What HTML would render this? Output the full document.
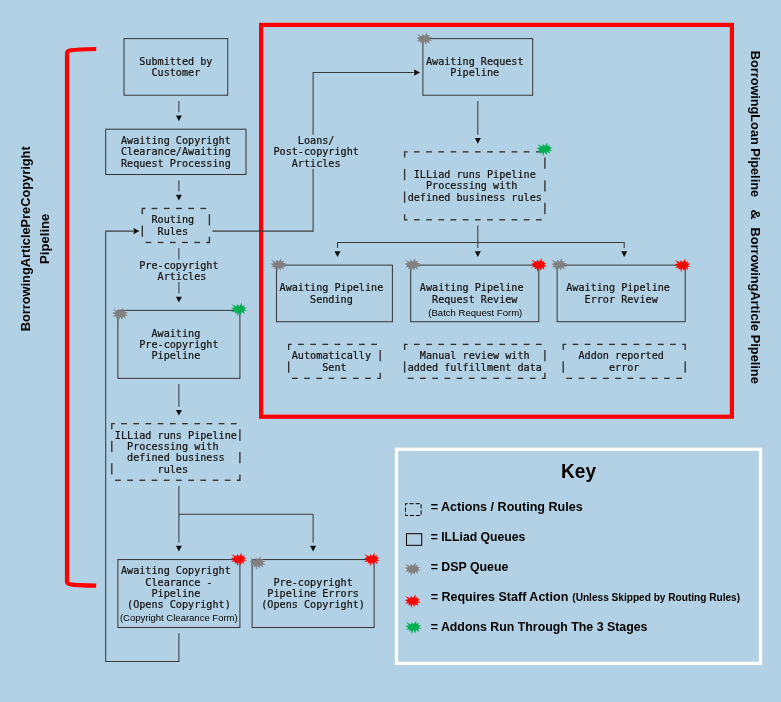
<!DOCTYPE html>
<html lang="en"><head><meta charset="utf-8"><title>Pipeline Diagram</title>
<style>html,body{margin:0;padding:0;background:#b3d1e4;}body{width:781px;height:702px;overflow:hidden;}svg{display:block;transform:translateZ(0);will-change:transform;}.m{font-family:"DejaVu Sans Mono","Liberation Mono",monospace;font-size:10.13px;fill:#141414;stroke:#141414;stroke-width:0.22px;white-space:pre;}.s{font-family:"Liberation Sans",sans-serif;fill:#000;}.b{font-family:"Liberation Sans",sans-serif;font-weight:bold;fill:#000;}</style></head><body>
<svg width="781" height="702" viewBox="0 0 781 702">
<rect width="781" height="702" fill="#b3d1e4"/>
<rect x="261.1" y="24.9" width="470.8" height="391.8" fill="none" stroke="#ff0000" stroke-width="4.2"/>
<path d="M96.2,49 C85,49.2 75,49.6 70.5,50.3 C67.8,50.8 67,51.5 67,53.2 L67,581.4 C67,583.1 67.8,583.8 70.5,584.3 C75,585 85,585.4 96.2,585.7" fill="none" stroke="#ff0000" stroke-width="4.2"/>
<rect x="396.45" y="449.35" width="364.1" height="214" fill="none" stroke="#ffffff" stroke-width="3.3"/>
<g fill="none" stroke="#383b3e" stroke-width="1.05">
<rect x="124" y="38.6" width="103.7" height="56.62"/>
<line x1="178.9" y1="100.89" x2="178.9" y2="112.21"/>
<rect x="105.7" y="129.2" width="140.3" height="45.3"/>
<line x1="178.9" y1="180.16" x2="178.9" y2="191.49"/>
<line x1="178.9" y1="248.11" x2="178.9" y2="259.44"/>
<line x1="178.9" y1="282.09" x2="178.9" y2="293.41"/>
<rect x="117.9" y="310.4" width="122" height="67.95"/>
<line x1="178.9" y1="384.01" x2="178.9" y2="406.66"/>
<line x1="178.9" y1="485.94" x2="178.9" y2="542.56"/>
<line x1="178.9" y1="514.25" x2="313.1" y2="514.25"/>
<line x1="313.1" y1="514.25" x2="313.1" y2="542.56"/>
<rect x="117.9" y="559.55" width="122" height="67.95"/>
<rect x="252.1" y="559.55" width="122" height="67.95"/>
<polyline points="178.9,633.16 178.9,661.48 105.7,661.48 105.7,231.12 133.15,231.12"/>
<polyline points="212.45,231.12 313.1,231.12 313.1,168.84"/>
<polyline points="313.1,134.86 313.1,72.57 413.75,72.57"/>
<rect x="422.9" y="38.6" width="109.8" height="56.62"/>
<line x1="477.8" y1="100.89" x2="477.8" y2="134.86"/>
<line x1="477.8" y1="225.46" x2="477.8" y2="242.45"/>
<polyline points="337.5,248.11 337.5,242.45 624.2,242.45 624.2,248.11"/>
<line x1="477.8" y1="242.45" x2="477.8" y2="248.11"/>
<rect x="276.5" y="265.1" width="115.9" height="56.62"/>
<rect x="410.7" y="265.1" width="128.1" height="56.62"/>
<rect x="557.1" y="265.1" width="128.1" height="56.62"/>
</g>
<g fill="none" stroke="#2f3235" stroke-width="1.35">
<polyline points="145.35,208.47 142.3,208.47 142.3,214.14"/>
<line x1="151.63" y1="208.47" x2="157.37" y2="208.47"/>
<line x1="163.83" y1="208.47" x2="169.57" y2="208.47"/>
<line x1="176.03" y1="208.47" x2="181.77" y2="208.47"/>
<line x1="188.23" y1="208.47" x2="193.97" y2="208.47"/>
<line x1="200.43" y1="208.47" x2="206.17" y2="208.47"/>
<line x1="209.4" y1="214.14" x2="209.4" y2="225.46"/>
<polyline points="206.35,242.45 209.4,242.45 209.4,236.79"/>
<line x1="194.33" y1="242.45" x2="200.07" y2="242.45"/>
<line x1="182.13" y1="242.45" x2="187.87" y2="242.45"/>
<line x1="169.93" y1="242.45" x2="175.67" y2="242.45"/>
<line x1="157.73" y1="242.45" x2="163.47" y2="242.45"/>
<line x1="145.53" y1="242.45" x2="151.27" y2="242.45"/>
<line x1="142.3" y1="225.46" x2="142.3" y2="236.79"/>
<polyline points="114.85,423.65 111.8,423.65 111.8,429.31"/>
<line x1="121.13" y1="423.65" x2="126.87" y2="423.65"/>
<line x1="133.33" y1="423.65" x2="139.07" y2="423.65"/>
<line x1="145.53" y1="423.65" x2="151.27" y2="423.65"/>
<line x1="157.73" y1="423.65" x2="163.47" y2="423.65"/>
<line x1="169.93" y1="423.65" x2="175.67" y2="423.65"/>
<line x1="182.13" y1="423.65" x2="187.87" y2="423.65"/>
<line x1="194.33" y1="423.65" x2="200.07" y2="423.65"/>
<line x1="206.53" y1="423.65" x2="212.27" y2="423.65"/>
<line x1="218.73" y1="423.65" x2="224.47" y2="423.65"/>
<line x1="230.93" y1="423.65" x2="236.67" y2="423.65"/>
<line x1="239.9" y1="429.31" x2="239.9" y2="440.64"/>
<line x1="239.9" y1="451.96" x2="239.9" y2="463.29"/>
<polyline points="236.85,480.27 239.9,480.27 239.9,474.61"/>
<line x1="224.83" y1="480.27" x2="230.57" y2="480.27"/>
<line x1="212.63" y1="480.27" x2="218.37" y2="480.27"/>
<line x1="200.43" y1="480.27" x2="206.17" y2="480.27"/>
<line x1="188.23" y1="480.27" x2="193.97" y2="480.27"/>
<line x1="176.03" y1="480.27" x2="181.77" y2="480.27"/>
<line x1="163.83" y1="480.27" x2="169.57" y2="480.27"/>
<line x1="151.63" y1="480.27" x2="157.37" y2="480.27"/>
<line x1="139.43" y1="480.27" x2="145.17" y2="480.27"/>
<line x1="127.23" y1="480.27" x2="132.97" y2="480.27"/>
<line x1="115.03" y1="480.27" x2="120.77" y2="480.27"/>
<line x1="111.8" y1="463.29" x2="111.8" y2="474.61"/>
<line x1="111.8" y1="440.64" x2="111.8" y2="451.96"/>
<polyline points="407.65,151.85 404.6,151.85 404.6,157.51"/>
<line x1="413.93" y1="151.85" x2="419.67" y2="151.85"/>
<line x1="426.13" y1="151.85" x2="431.87" y2="151.85"/>
<line x1="438.33" y1="151.85" x2="444.07" y2="151.85"/>
<line x1="450.53" y1="151.85" x2="456.27" y2="151.85"/>
<line x1="462.73" y1="151.85" x2="468.47" y2="151.85"/>
<line x1="474.93" y1="151.85" x2="480.67" y2="151.85"/>
<line x1="487.13" y1="151.85" x2="492.87" y2="151.85"/>
<line x1="499.33" y1="151.85" x2="505.07" y2="151.85"/>
<line x1="511.53" y1="151.85" x2="517.27" y2="151.85"/>
<line x1="523.73" y1="151.85" x2="529.47" y2="151.85"/>
<line x1="535.93" y1="151.85" x2="541.67" y2="151.85"/>
<line x1="544.9" y1="157.51" x2="544.9" y2="168.84"/>
<line x1="544.9" y1="180.16" x2="544.9" y2="191.49"/>
<line x1="544.9" y1="202.81" x2="544.9" y2="214.14"/>
<line x1="535.93" y1="219.8" x2="541.67" y2="219.8"/>
<line x1="523.73" y1="219.8" x2="529.47" y2="219.8"/>
<line x1="511.53" y1="219.8" x2="517.27" y2="219.8"/>
<line x1="499.33" y1="219.8" x2="505.07" y2="219.8"/>
<line x1="487.13" y1="219.8" x2="492.87" y2="219.8"/>
<line x1="474.93" y1="219.8" x2="480.67" y2="219.8"/>
<line x1="462.73" y1="219.8" x2="468.47" y2="219.8"/>
<line x1="450.53" y1="219.8" x2="456.27" y2="219.8"/>
<line x1="438.33" y1="219.8" x2="444.07" y2="219.8"/>
<line x1="426.13" y1="219.8" x2="431.87" y2="219.8"/>
<line x1="413.93" y1="219.8" x2="419.67" y2="219.8"/>
<polyline points="407.65,219.8 404.6,219.8 404.6,214.14"/>
<line x1="404.6" y1="191.49" x2="404.6" y2="202.81"/>
<line x1="404.6" y1="168.84" x2="404.6" y2="180.16"/>
<polyline points="291.75,344.38 288.7,344.38 288.7,350.04"/>
<line x1="298.03" y1="344.38" x2="303.77" y2="344.38"/>
<line x1="310.23" y1="344.38" x2="315.97" y2="344.38"/>
<line x1="322.43" y1="344.38" x2="328.17" y2="344.38"/>
<line x1="334.63" y1="344.38" x2="340.37" y2="344.38"/>
<line x1="346.83" y1="344.38" x2="352.57" y2="344.38"/>
<line x1="359.03" y1="344.38" x2="364.77" y2="344.38"/>
<line x1="371.23" y1="344.38" x2="376.97" y2="344.38"/>
<line x1="380.2" y1="350.04" x2="380.2" y2="361.36"/>
<polyline points="377.15,378.35 380.2,378.35 380.2,372.69"/>
<line x1="365.13" y1="378.35" x2="370.87" y2="378.35"/>
<line x1="352.93" y1="378.35" x2="358.67" y2="378.35"/>
<line x1="340.73" y1="378.35" x2="346.47" y2="378.35"/>
<line x1="328.53" y1="378.35" x2="334.27" y2="378.35"/>
<line x1="316.33" y1="378.35" x2="322.07" y2="378.35"/>
<line x1="304.13" y1="378.35" x2="309.87" y2="378.35"/>
<line x1="291.93" y1="378.35" x2="297.67" y2="378.35"/>
<line x1="288.7" y1="361.36" x2="288.7" y2="372.69"/>
<polyline points="407.65,344.38 404.6,344.38 404.6,350.04"/>
<line x1="413.93" y1="344.38" x2="419.67" y2="344.38"/>
<line x1="426.13" y1="344.38" x2="431.87" y2="344.38"/>
<line x1="438.33" y1="344.38" x2="444.07" y2="344.38"/>
<line x1="450.53" y1="344.38" x2="456.27" y2="344.38"/>
<line x1="462.73" y1="344.38" x2="468.47" y2="344.38"/>
<line x1="474.93" y1="344.38" x2="480.67" y2="344.38"/>
<line x1="487.13" y1="344.38" x2="492.87" y2="344.38"/>
<line x1="499.33" y1="344.38" x2="505.07" y2="344.38"/>
<line x1="511.53" y1="344.38" x2="517.27" y2="344.38"/>
<line x1="523.73" y1="344.38" x2="529.47" y2="344.38"/>
<line x1="535.93" y1="344.38" x2="541.67" y2="344.38"/>
<line x1="544.9" y1="350.04" x2="544.9" y2="361.36"/>
<polyline points="541.85,378.35 544.9,378.35 544.9,372.69"/>
<line x1="529.83" y1="378.35" x2="535.57" y2="378.35"/>
<line x1="517.63" y1="378.35" x2="523.37" y2="378.35"/>
<line x1="505.43" y1="378.35" x2="511.17" y2="378.35"/>
<line x1="493.23" y1="378.35" x2="498.97" y2="378.35"/>
<line x1="481.03" y1="378.35" x2="486.77" y2="378.35"/>
<line x1="468.83" y1="378.35" x2="474.57" y2="378.35"/>
<line x1="456.63" y1="378.35" x2="462.37" y2="378.35"/>
<line x1="444.43" y1="378.35" x2="450.17" y2="378.35"/>
<line x1="432.23" y1="378.35" x2="437.97" y2="378.35"/>
<line x1="420.03" y1="378.35" x2="425.77" y2="378.35"/>
<line x1="407.83" y1="378.35" x2="413.57" y2="378.35"/>
<line x1="404.6" y1="361.36" x2="404.6" y2="372.69"/>
<polyline points="566.25,344.38 563.2,344.38 563.2,350.04"/>
<line x1="572.53" y1="344.38" x2="578.27" y2="344.38"/>
<line x1="584.73" y1="344.38" x2="590.47" y2="344.38"/>
<line x1="596.93" y1="344.38" x2="602.67" y2="344.38"/>
<line x1="609.13" y1="344.38" x2="614.87" y2="344.38"/>
<line x1="621.33" y1="344.38" x2="627.07" y2="344.38"/>
<line x1="633.53" y1="344.38" x2="639.27" y2="344.38"/>
<line x1="645.73" y1="344.38" x2="651.47" y2="344.38"/>
<line x1="657.93" y1="344.38" x2="663.67" y2="344.38"/>
<line x1="670.13" y1="344.38" x2="675.87" y2="344.38"/>
<polyline points="682.15,344.38 685.2,344.38 685.2,350.04"/>
<line x1="685.2" y1="361.36" x2="685.2" y2="372.69"/>
<line x1="676.23" y1="378.35" x2="681.97" y2="378.35"/>
<line x1="664.03" y1="378.35" x2="669.77" y2="378.35"/>
<line x1="651.83" y1="378.35" x2="657.57" y2="378.35"/>
<line x1="639.63" y1="378.35" x2="645.37" y2="378.35"/>
<line x1="627.43" y1="378.35" x2="633.17" y2="378.35"/>
<line x1="615.23" y1="378.35" x2="620.97" y2="378.35"/>
<line x1="603.03" y1="378.35" x2="608.77" y2="378.35"/>
<line x1="590.83" y1="378.35" x2="596.57" y2="378.35"/>
<line x1="578.63" y1="378.35" x2="584.37" y2="378.35"/>
<line x1="566.43" y1="378.35" x2="572.17" y2="378.35"/>
<line x1="563.2" y1="361.36" x2="563.2" y2="372.69"/>
</g>
<g fill="#111">
<polygon points="175.9,115.47 181.9,115.47 178.9,121.17"/>
<polygon points="175.9,194.75 181.9,194.75 178.9,200.45"/>
<polygon points="175.9,296.68 181.9,296.68 178.9,302.38"/>
<polygon points="175.9,409.93 181.9,409.93 178.9,415.62"/>
<polygon points="175.9,545.82 181.9,545.82 178.9,551.52"/>
<polygon points="310.1,545.82 316.1,545.82 313.1,551.52"/>
<polygon points="133.6,228.02 133.6,234.22 139.4,231.12"/>
<polygon points="414.2,69.47 414.2,75.67 420,72.57"/>
<polygon points="474.8,138.12 480.8,138.12 477.8,143.83"/>
<polygon points="334.5,251.37 340.5,251.37 337.5,257.07"/>
<polygon points="474.8,251.37 480.8,251.37 477.8,257.07"/>
<polygon points="621.2,251.37 627.2,251.37 624.2,257.07"/>
</g>
<polygon fill="#808080" points="424.4,35.91 427.16,32.15 426.89,35.6 430.01,35.04 428.77,36.89 432.03,37.42 429.44,38.94 432.4,40.76 428.87,40.54 429.84,43.88 426.79,41.52 426.21,44.94 424.2,41.83 422.69,46.15 422.11,42.28 419.93,43.57 420.6,41.18 416.5,41.6 419.16,39.78 416.4,37.73 419.83,37.09 416.67,33.64 421.82,36.25 422.59,33.64"/>
<polygon fill="#00b050" points="544.7,146.11 547.46,142.35 547.19,145.8 550.31,145.24 549.07,147.09 552.33,147.62 549.74,149.14 552.7,150.96 549.17,150.74 550.14,154.08 547.09,151.72 546.51,155.14 544.5,152.03 542.99,156.35 542.41,152.48 540.23,153.77 540.9,151.38 536.8,151.8 539.46,149.98 536.7,147.93 540.13,147.29 536.97,143.84 542.12,146.45 542.89,143.84"/>
<polygon fill="#808080" points="278.6,261.81 281.36,258.05 281.09,261.5 284.21,260.94 282.97,262.79 286.23,263.32 283.64,264.84 286.6,266.66 283.07,266.44 284.04,269.78 280.99,267.42 280.41,270.84 278.4,267.73 276.89,272.05 276.31,268.18 274.13,269.47 274.8,267.08 270.7,267.5 273.36,265.68 270.6,263.63 274.03,262.99 270.87,259.54 276.02,262.15 276.79,259.54"/>
<polygon fill="#808080" points="412.6,261.81 415.36,258.05 415.09,261.5 418.21,260.94 416.97,262.79 420.23,263.32 417.64,264.84 420.6,266.66 417.07,266.44 418.04,269.78 414.99,267.42 414.41,270.84 412.4,267.73 410.89,272.05 410.31,268.18 408.13,269.47 408.8,267.08 404.7,267.5 407.36,265.68 404.6,263.63 408.03,262.99 404.87,259.54 410.02,262.15 410.79,259.54"/>
<polygon fill="#ff0000" points="539,261.81 541.76,258.05 541.49,261.5 544.61,260.94 543.37,262.79 546.63,263.32 544.04,264.84 547,266.66 543.47,266.44 544.44,269.78 541.39,267.42 540.81,270.84 538.8,267.73 537.29,272.05 536.71,268.18 534.53,269.47 535.2,267.08 531.1,267.5 533.76,265.68 531,263.63 534.43,262.99 531.27,259.54 536.42,262.15 537.19,259.54"/>
<polygon fill="#808080" points="559.3,261.81 562.06,258.05 561.79,261.5 564.91,260.94 563.67,262.79 566.93,263.32 564.34,264.84 567.3,266.66 563.77,266.44 564.74,269.78 561.69,267.42 561.11,270.84 559.1,267.73 557.59,272.05 557.01,268.18 554.83,269.47 555.5,267.08 551.4,267.5 554.06,265.68 551.3,263.63 554.73,262.99 551.57,259.54 556.72,262.15 557.49,259.54"/>
<polygon fill="#ff0000" points="682.7,262.21 685.46,258.45 685.19,261.9 688.31,261.34 687.07,263.19 690.33,263.72 687.74,265.24 690.7,267.06 687.17,266.84 688.14,270.18 685.09,267.82 684.51,271.24 682.5,268.13 680.99,272.45 680.41,268.58 678.23,269.87 678.9,267.48 674.8,267.9 677.46,266.08 674.7,264.03 678.13,263.39 674.97,259.94 680.12,262.55 680.89,259.94"/>
<polygon fill="#808080" points="120.4,310.91 123.16,307.15 122.89,310.6 126.01,310.04 124.77,311.89 128.03,312.42 125.44,313.94 128.4,315.76 124.87,315.54 125.84,318.88 122.79,316.52 122.21,319.94 120.2,316.83 118.69,321.15 118.11,317.28 115.93,318.57 116.6,316.18 112.5,316.6 115.16,314.78 112.4,312.73 115.83,312.09 112.67,308.64 117.82,311.25 118.59,308.64"/>
<polygon fill="#00b050" points="239.2,306.21 241.96,302.45 241.69,305.9 244.81,305.34 243.57,307.19 246.83,307.72 244.24,309.24 247.2,311.06 243.67,310.84 244.64,314.18 241.59,311.82 241.01,315.24 239,312.13 237.49,316.45 236.91,312.58 234.73,313.87 235.4,311.48 231.3,311.9 233.96,310.08 231.2,308.03 234.63,307.39 231.47,303.94 236.62,306.55 237.39,303.94"/>
<polygon fill="#ff0000" points="239,556.21 241.76,552.45 241.49,555.9 244.61,555.34 243.37,557.19 246.63,557.72 244.04,559.24 247,561.06 243.47,560.84 244.44,564.18 241.39,561.82 240.81,565.24 238.8,562.13 237.29,566.45 236.71,562.58 234.53,563.87 235.2,561.48 231.1,561.9 233.76,560.08 231,558.03 234.43,557.39 231.27,553.94 236.42,556.55 237.19,553.94"/>
<polygon fill="#808080" points="257.8,559.81 260.56,556.05 260.29,559.5 263.41,558.94 262.17,560.79 265.43,561.32 262.84,562.84 265.8,564.66 262.27,564.44 263.24,567.78 260.19,565.42 259.61,568.84 257.6,565.73 256.09,570.05 255.51,566.18 253.33,567.47 254,565.08 249.9,565.5 252.56,563.68 249.8,561.63 253.23,560.99 250.07,557.54 255.22,560.15 255.99,557.54"/>
<polygon fill="#ff0000" points="372,556.21 374.76,552.45 374.49,555.9 377.61,555.34 376.37,557.19 379.63,557.72 377.04,559.24 380,561.06 376.47,560.84 377.44,564.18 374.39,561.82 373.81,565.24 371.8,562.13 370.29,566.45 369.71,562.58 367.53,563.87 368.2,561.48 364.1,561.9 366.76,560.08 364,558.03 367.43,557.39 364.27,553.94 369.42,556.55 370.19,553.94"/>
<polygon fill="#808080" points="412.8,565.96 415.56,562.2 415.29,565.65 418.41,565.09 417.17,566.94 420.43,567.47 417.84,568.99 420.8,570.81 417.27,570.59 418.24,573.93 415.19,571.57 414.61,574.99 412.6,571.88 411.09,576.2 410.51,572.33 408.33,573.62 409,571.23 404.9,571.65 407.56,569.83 404.8,567.78 408.23,567.14 405.07,563.69 410.22,566.3 410.99,563.69"/>
<polygon fill="#ff0000" points="412.8,598.06 415.56,594.3 415.29,597.75 418.41,597.19 417.17,599.04 420.43,599.57 417.84,601.09 420.8,602.91 417.27,602.69 418.24,606.03 415.19,603.67 414.61,607.09 412.6,603.98 411.09,608.3 410.51,604.43 408.33,605.72 409,603.33 404.9,603.75 407.56,601.93 404.8,599.88 408.23,599.24 405.07,595.79 410.22,598.4 410.99,595.79"/>
<polygon fill="#00b050" points="413.6,624.16 416.36,620.4 416.09,623.85 419.21,623.29 417.97,625.14 421.23,625.67 418.64,627.19 421.6,629.01 418.07,628.79 419.04,632.13 415.99,629.77 415.41,633.19 413.4,630.08 411.89,634.4 411.31,630.53 409.13,631.82 409.8,629.43 405.7,629.85 408.36,628.03 405.6,625.98 409.03,625.34 405.87,621.89 411.02,624.5 411.79,621.89"/>
<g class="m">
<text x="139.25" y="64.85" textLength="73.2" lengthAdjust="spacing">Submitted by</text>
<text x="151.45" y="76.17" textLength="48.8" lengthAdjust="spacing">Customer</text>
<text x="120.95" y="144.12" textLength="109.8" lengthAdjust="spacing">Awaiting Copyright</text>
<text x="120.95" y="155.45" textLength="109.8" lengthAdjust="spacing">Clearance/Awaiting</text>
<text x="120.95" y="166.77" textLength="109.8" lengthAdjust="spacing">Request Processing</text>
<text x="151.45" y="223.4" textLength="42.7" lengthAdjust="spacing">Routing</text>
<text x="157.55" y="234.72" textLength="30.5" lengthAdjust="spacing">Rules</text>
<text x="139.25" y="268.7" textLength="79.3" lengthAdjust="spacing">Pre-copyright</text>
<text x="157.55" y="280.03" textLength="48.8" lengthAdjust="spacing">Articles</text>
<text x="151.45" y="336.65" textLength="48.8" lengthAdjust="spacing">Awaiting</text>
<text x="139.25" y="347.98" textLength="79.3" lengthAdjust="spacing">Pre-copyright</text>
<text x="151.45" y="359.3" textLength="48.8" lengthAdjust="spacing">Pipeline</text>
<text x="114.85" y="438.58" textLength="122" lengthAdjust="spacing">ILLiad runs Pipeline</text>
<text x="127.05" y="449.9" textLength="91.5" lengthAdjust="spacing">Processing with</text>
<text x="127.05" y="461.23" textLength="97.6" lengthAdjust="spacing">defined business</text>
<text x="157.55" y="472.55" textLength="30.5" lengthAdjust="spacing">rules</text>
<text x="120.95" y="574.48" textLength="109.8" lengthAdjust="spacing">Awaiting Copyright</text>
<text x="145.35" y="585.8" textLength="67.1" lengthAdjust="spacing">Clearance -</text>
<text x="151.45" y="597.12" textLength="48.8" lengthAdjust="spacing">Pipeline</text>
<text x="127.05" y="608.45" textLength="103.7" lengthAdjust="spacing">(Opens Copyright)</text>
<text x="273.45" y="585.8" textLength="79.3" lengthAdjust="spacing">Pre-copyright</text>
<text x="267.35" y="597.12" textLength="91.5" lengthAdjust="spacing">Pipeline Errors</text>
<text x="261.25" y="608.45" textLength="103.7" lengthAdjust="spacing">(Opens Copyright)</text>
<text x="297.85" y="144.12" textLength="36.6" lengthAdjust="spacing">Loans/</text>
<text x="273.45" y="155.45" textLength="85.4" lengthAdjust="spacing">Post-copyright</text>
<text x="291.75" y="166.77" textLength="48.8" lengthAdjust="spacing">Articles</text>
<text x="425.95" y="64.85" textLength="97.6" lengthAdjust="spacing">Awaiting Request</text>
<text x="450.35" y="76.17" textLength="48.8" lengthAdjust="spacing">Pipeline</text>
<text x="413.75" y="178.1" textLength="122" lengthAdjust="spacing">ILLiad runs Pipeline</text>
<text x="425.95" y="189.42" textLength="91.5" lengthAdjust="spacing">Processing with</text>
<text x="407.65" y="200.75" textLength="134.2" lengthAdjust="spacing">defined business rules</text>
<text x="279.55" y="291.35" textLength="103.7" lengthAdjust="spacing">Awaiting Pipeline</text>
<text x="310.05" y="302.68" textLength="42.7" lengthAdjust="spacing">Sending</text>
<text x="419.85" y="291.35" textLength="103.7" lengthAdjust="spacing">Awaiting Pipeline</text>
<text x="432.05" y="302.68" textLength="85.4" lengthAdjust="spacing">Request Review</text>
<text x="566.25" y="291.35" textLength="103.7" lengthAdjust="spacing">Awaiting Pipeline</text>
<text x="584.55" y="302.68" textLength="73.2" lengthAdjust="spacing">Error Review</text>
<text x="291.75" y="359.3" textLength="79.3" lengthAdjust="spacing">Automatically</text>
<text x="322.25" y="370.62" textLength="24.4" lengthAdjust="spacing">Sent</text>
<text x="419.85" y="359.3" textLength="109.8" lengthAdjust="spacing">Manual review with</text>
<text x="407.65" y="370.62" textLength="134.2" lengthAdjust="spacing">added fulfillment data</text>
<text x="578.45" y="359.3" textLength="85.4" lengthAdjust="spacing">Addon reported</text>
<text x="608.95" y="370.62" textLength="30.5" lengthAdjust="spacing">error</text>
</g>
<text class="s" x="475.3" y="316.1" font-size="9.9" text-anchor="middle" textLength="94" lengthAdjust="spacingAndGlyphs">(Batch Request Form)</text>
<text class="s" x="178.8" y="621.4" font-size="9.9" text-anchor="middle" textLength="117.8" lengthAdjust="spacingAndGlyphs">(Copyright Clearance Form)</text>
<text class="b" font-size="13.4" transform="translate(30.4,331.3) rotate(-90)" textLength="185" lengthAdjust="spacingAndGlyphs">BorrowingArticlePreCopyright</text>
<text class="b" font-size="13.4" transform="translate(48.6,263.9) rotate(-90)" textLength="50.2" lengthAdjust="spacingAndGlyphs">Pipeline</text>
<text class="b" font-size="13.4" transform="translate(751.3,50.8) rotate(90)" textLength="146.2" lengthAdjust="spacingAndGlyphs">BorrowingLoan Pipeline</text>
<text class="b" font-size="13.4" transform="translate(751.3,209.2) rotate(90)" textLength="10.5" lengthAdjust="spacingAndGlyphs">&amp;</text>
<text class="b" font-size="13.4" transform="translate(751.3,227.4) rotate(90)" textLength="156.4" lengthAdjust="spacingAndGlyphs">BorrowingArticle Pipeline</text>
<text class="b" font-size="19.7" x="561" y="477.7" textLength="35" lengthAdjust="spacingAndGlyphs">Key</text>
<rect x="405.5" y="503.7" width="15.6" height="11.8" fill="none" stroke="#000" stroke-width="1" stroke-dasharray="4.2,1.9" stroke-dashoffset="2.1"/>
<rect x="406.5" y="533.7" width="15.2" height="11.6" fill="none" stroke="#000" stroke-width="1"/>
<text class="b" font-size="12.8" x="430.7" y="511" textLength="152" lengthAdjust="spacingAndGlyphs">= Actions / Routing Rules</text>
<text class="b" font-size="12.8" x="430.7" y="541" textLength="94.6" lengthAdjust="spacingAndGlyphs">= ILLiad Queues</text>
<text class="b" font-size="12.8" x="430.7" y="571" textLength="77.6" lengthAdjust="spacingAndGlyphs">= DSP Queue</text>
<text class="b" font-size="12.8" x="430.7" y="601" textLength="137.6" lengthAdjust="spacingAndGlyphs">= Requires Staff Action</text>
<text class="b" font-size="12.8" x="430.7" y="631" textLength="216.8" lengthAdjust="spacingAndGlyphs">= Addons Run Through The 3 Stages</text>
<text class="b" font-size="10.8" x="572.3" y="601" textLength="167.8" lengthAdjust="spacingAndGlyphs">(Unless Skipped by Routing Rules)</text>
</svg></body></html>
